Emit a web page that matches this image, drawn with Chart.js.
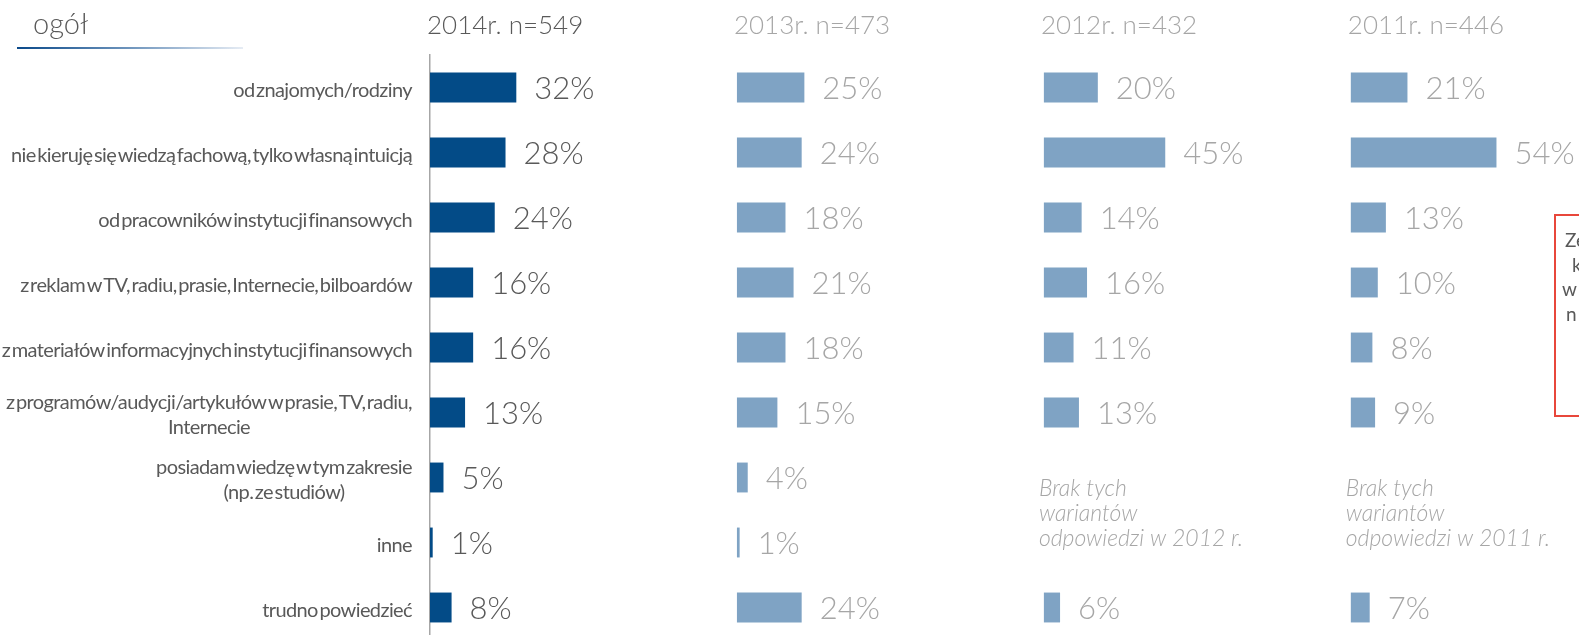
<!DOCTYPE html>
<html lang="pl">
<head>
<meta charset="utf-8">
<title>Źródła wiedzy finansowej</title>
<script src="https://cdn.jsdelivr.net/npm/chart.js@4.4.1/dist/chart.umd.min.js"></script>
<style>
  html, body { margin: 0; padding: 0; background: #fff; overflow: hidden; }
  canvas { display: block; }
</style>
</head>
<body>
<canvas id="sources" width="1579" height="640"></canvas>
<script>
// answers (multi-line entries are wrapped labels)
const categories = [
  ['od znajomych/rodziny'],
  ['nie kieruję się wiedzą fachową, tylko własną intuicją'],
  ['od pracowników instytucji finansowych'],
  ['z reklam w TV, radiu, prasie, Internecie, bilboardów'],
  ['z materiałów informacyjnych instytucji finansowych'],
  ['z programów/audycji/artykułów w prasie, TV, radiu,', 'Internecie'],
  ['posiadam wiedzę w tym zakresie', '(np. ze studiów)'],
  ['inne'],
  ['trudno powiedzieć']
];

const years = ['2014r. n=549', '2013r. n=473', '2012r. n=432', '2011r. n=446'];

const values2014 = [32, 28, 24, 16, 16, 13, 5, 1, 8];
const values2013 = [25, 24, 18, 21, 18, 15, 4, 1, 24];
const values2012 = [20, 45, 14, 16, 11, 13, null, null, 6];
const values2011 = [21, 54, 13, 10, 8, 9, null, null, 7];

// answers that were not asked in older waves
const missingNotes = [
  null,
  null,
  ['Brak tych', 'wariantów', 'odpowiedzi w 2012 r.'],
  ['Brak tych', 'wariantów', 'odpowiedzi w 2011 r.']
];

const DARK_GREY = '#595959';
const LIGHT_GREY = '#A6A6A6';
const barColors = ['#034B87', '#7FA3C4', '#7FA3C4', '#7FA3C4'];
const textColors = [DARK_GREY, LIGHT_GREY, LIGHT_GREY, LIGHT_GREY];

// every value axis spans the whole plot; each panel is shifted by PANEL_STEP
const AXIS_SPAN = 426;
const PANEL_STEP = 113.8;

const series = [values2014, values2013, values2012, values2011];

const xScales = {};
series.forEach((_, i) => {
  xScales['x' + i] = {
    type: 'linear',
    display: false,
    min: -PANEL_STEP * i,
    max: AXIS_SPAN - PANEL_STEP * i
  };
});

const categoryLabels = {
  id: 'categoryLabels',
  afterDraw(chart) {
    const ctx = chart.ctx;
    const y = chart.scales.y;
    const right = y.right - 18;
    ctx.save();
    ctx.font = '20px Lato';
    ctx.letterSpacing = '-0.6px';
    ctx.wordSpacing = '-3px';
    ctx.fillStyle = DARK_GREY;
    ctx.textBaseline = 'middle';
    ctx.textAlign = 'center';
    categories.forEach((lines, i) => {
      const cy = y.getPixelForValue(i) + 3;
      const w = Math.max(...lines.map(l => ctx.measureText(l).width));
      const cx = right - w / 2;
      const top = cy - (lines.length - 1) * 12.5;
      lines.forEach((l, j) => ctx.fillText(l, cx, top + j * 25));
    });
    ctx.restore();
  }
};

const valueLabels = {
  id: 'valueLabels',
  afterDatasetsDraw(chart) {
    const ctx = chart.ctx;
    ctx.save();
    ctx.font = '300 31px Lato';
    ctx.textBaseline = 'middle';
    ctx.textAlign = 'left';
    chart.data.datasets.forEach((ds, di) => {
      ctx.fillStyle = textColors[di];
      chart.getDatasetMeta(di).data.forEach((bar, i) => {
        const v = ds.data[i];
        if (v == null) return;
        ctx.fillText(v + '%', bar.x + 18, bar.y + 1);
      });
    });
    ctx.restore();
  }
};

const decorations = {
  id: 'decorations',
  afterDraw(chart) {
    const ctx = chart.ctx;
    const y = chart.scales.y;
    ctx.save();

    // section title with fading underline
    ctx.fillStyle = DARK_GREY;
    ctx.font = '300 29px Lato';
    ctx.textBaseline = 'alphabetic';
    ctx.fillText('ogół', 33, 34);
    const grad = ctx.createLinearGradient(17, 0, 243, 0);
    grad.addColorStop(0, '#0B4A8A');
    grad.addColorStop(0.5, '#6F95BD');
    grad.addColorStop(1, 'rgba(230,236,244,1)');
    ctx.fillStyle = grad;
    ctx.fillRect(17, 47, 226, 2);

    // panel headers and notes for missing answers
    series.forEach((_, i) => {
      const x0 = chart.scales['x' + i].getPixelForValue(0);
      ctx.fillStyle = textColors[i];
      ctx.font = '300 26px Lato';
      ctx.textBaseline = 'alphabetic';
      ctx.fillText(years[i], x0 - 3, 34);

      const note = missingNotes[i];
      if (note) {
        const mid = (y.getPixelForValue(6) + y.getPixelForValue(7)) / 2 + 4;
        ctx.fillStyle = LIGHT_GREY;
        ctx.font = 'italic 300 23px Lato';
        ctx.textBaseline = 'middle';
        note.forEach((l, j) => ctx.fillText(l, x0 - 5, mid + (j - 1) * 25));
      }
    });

    // callout box running off the right edge
    ctx.strokeStyle = '#E8473B';
    ctx.lineWidth = 2;
    ctx.strokeRect(1555, 215, 60, 201);
    ctx.fillStyle = DARK_GREY;
    ctx.font = '19px Lato';
    ctx.textBaseline = 'middle';
    [['Ze', 1565], ['k', 1572], ['w', 1562], ['n', 1566]].forEach(([t, x], j) => {
      ctx.fillText(t, x, 241 + j * 24.5);
    });

    ctx.restore();
  }
};

new Chart(document.getElementById('sources'), {
  type: 'bar',
  data: {
    labels: categories,
    datasets: series.map((data, i) => ({
      label: years[i],
      data: data,
      xAxisID: 'x' + i,
      backgroundColor: barColors[i],
      grouped: false,
      categoryPercentage: 1,
      barPercentage: 0.46
    }))
  },
  options: {
    indexAxis: 'y',
    responsive: false,
    animation: false,
    devicePixelRatio: 1,
    layout: { padding: { top: 55, right: 0, bottom: 0, left: 0 } },
    plugins: {
      legend: { display: false },
      tooltip: { enabled: false }
    },
    scales: {
      ...xScales,
      y: {
        type: 'category',
        grid: { display: false, drawTicks: false },
        border: { display: true, color: '#A6A6A6', width: 1.5 },
        ticks: { display: false },
        afterFit(scale) { scale.width = 430; }
      }
    }
  },
  plugins: [categoryLabels, valueLabels, decorations]
});
</script>
</body>
</html>
